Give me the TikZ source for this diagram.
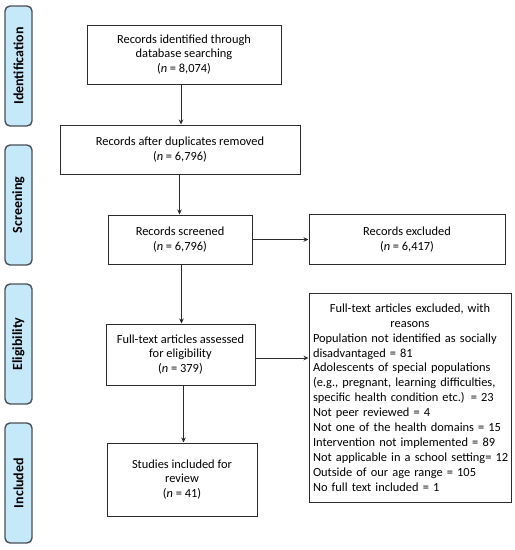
\documentclass[tikz,border=0pt]{standalone}
\usepackage{fontspec}
\setmainfont{Carlito}
\usetikzlibrary{arrows.meta}
\definecolor{barfill}{HTML}{C6E9FA}
\definecolor{barline}{HTML}{4A4F55}
\definecolor{boxline}{HTML}{2B2B2B}
\begin{document}
\begin{tikzpicture}[x=1pt,y=-1pt,
  flowbox/.style={draw=boxline,line width=1pt,rectangle,align=center,inner sep=3pt,
    font=\fontsize{12.4}{14.5}\selectfont},
  phasebar/.style={draw=barline,fill=barfill,line width=1.4pt,rounded corners=5pt,
    rotate=90,minimum width=120pt,minimum height=27pt,inner sep=0pt,
    font=\fontsize{14}{15}\selectfont\bfseries},
  arr/.style={-{Stealth[length=5pt,width=4.5pt]},line width=0.9pt,draw=boxline}]
\useasboundingbox (0,0) rectangle (515,550);
% phase bars
\node[phasebar] (pid) at (18.5,66) {Identification};
\node[phasebar] (psc) at (18.5,205) {Screening};
\node[phasebar] (pel) at (18.5,344) {Eligibility};
\node[phasebar] (pin) at (18.5,483) {Included};
% boxes
\node[flowbox,minimum width=194pt,minimum height=59pt] (b1) at (184,54.5)
  {Records identified through\\database searching\\({\itshape n} = 8,074)};
\node[flowbox,minimum width=240pt,minimum height=49pt] (b2) at (180,149.5)
  {Records after duplicates removed\\({\itshape n} = 6,796)};
\node[flowbox,minimum width=144pt,minimum height=49pt] (b3) at (180,239.5)
  {Records screened\\({\itshape n} = 6,796)};
\node[flowbox,minimum width=196pt,minimum height=50pt] (e1) at (407,239.5)
  {Records excluded\\({\itshape n} = 6,417)};
\node[flowbox,minimum width=149pt,minimum height=61pt] (b4) at (180.5,354.5)
  {Full-text articles assessed\\for eligibility\\({\itshape n} = 379)};
\node[flowbox,minimum width=150pt,minimum height=73pt] (b5) at (182,479.5)
  {Studies included for\\review\\({\itshape n} = 41)};
\node[draw=boxline,line width=1pt,rectangle,minimum width=202pt,minimum height=209pt,
  text width=194pt,inner sep=4pt,font=\fontsize{12.4}{14.9}\selectfont] (e2) at (410,397.5)
  {{\centering Full-text articles excluded, with\\reasons\par}
   \raggedright
   Population not identified as socially\\
   disadvantaged = 81\\
   Adolescents of special populations\\
   (e.g., pregnant, learning difficulties,\\
   specific health condition etc.) = 23\\
   Not peer reviewed = 4\\
   Not one of the health domains = 15\\
   Intervention not implemented = 89\\
   \mbox{Not applicable in a school setting= 12}\\
   Outside of our age range = 105\\
   No full text included = 1\par};
% arrows
\draw[arr] (b1.south -| 181,0) -- (b2.north -| 181,0);
\draw[arr] (b2.south -| 179.5,0) -- (b3.north -| 179.5,0);
\draw[arr] (b3.south -| 181.5,0) -- (b4.north -| 181.5,0);
\draw[arr] (b4.south -| 183.5,0) -- (b5.north -| 183.5,0);
\draw[arr] (b3.east) -- (e1.west);
\draw[arr] (b4.east |- 0,358) -- (e2.west |- 0,358);
\end{tikzpicture}
\end{document}
